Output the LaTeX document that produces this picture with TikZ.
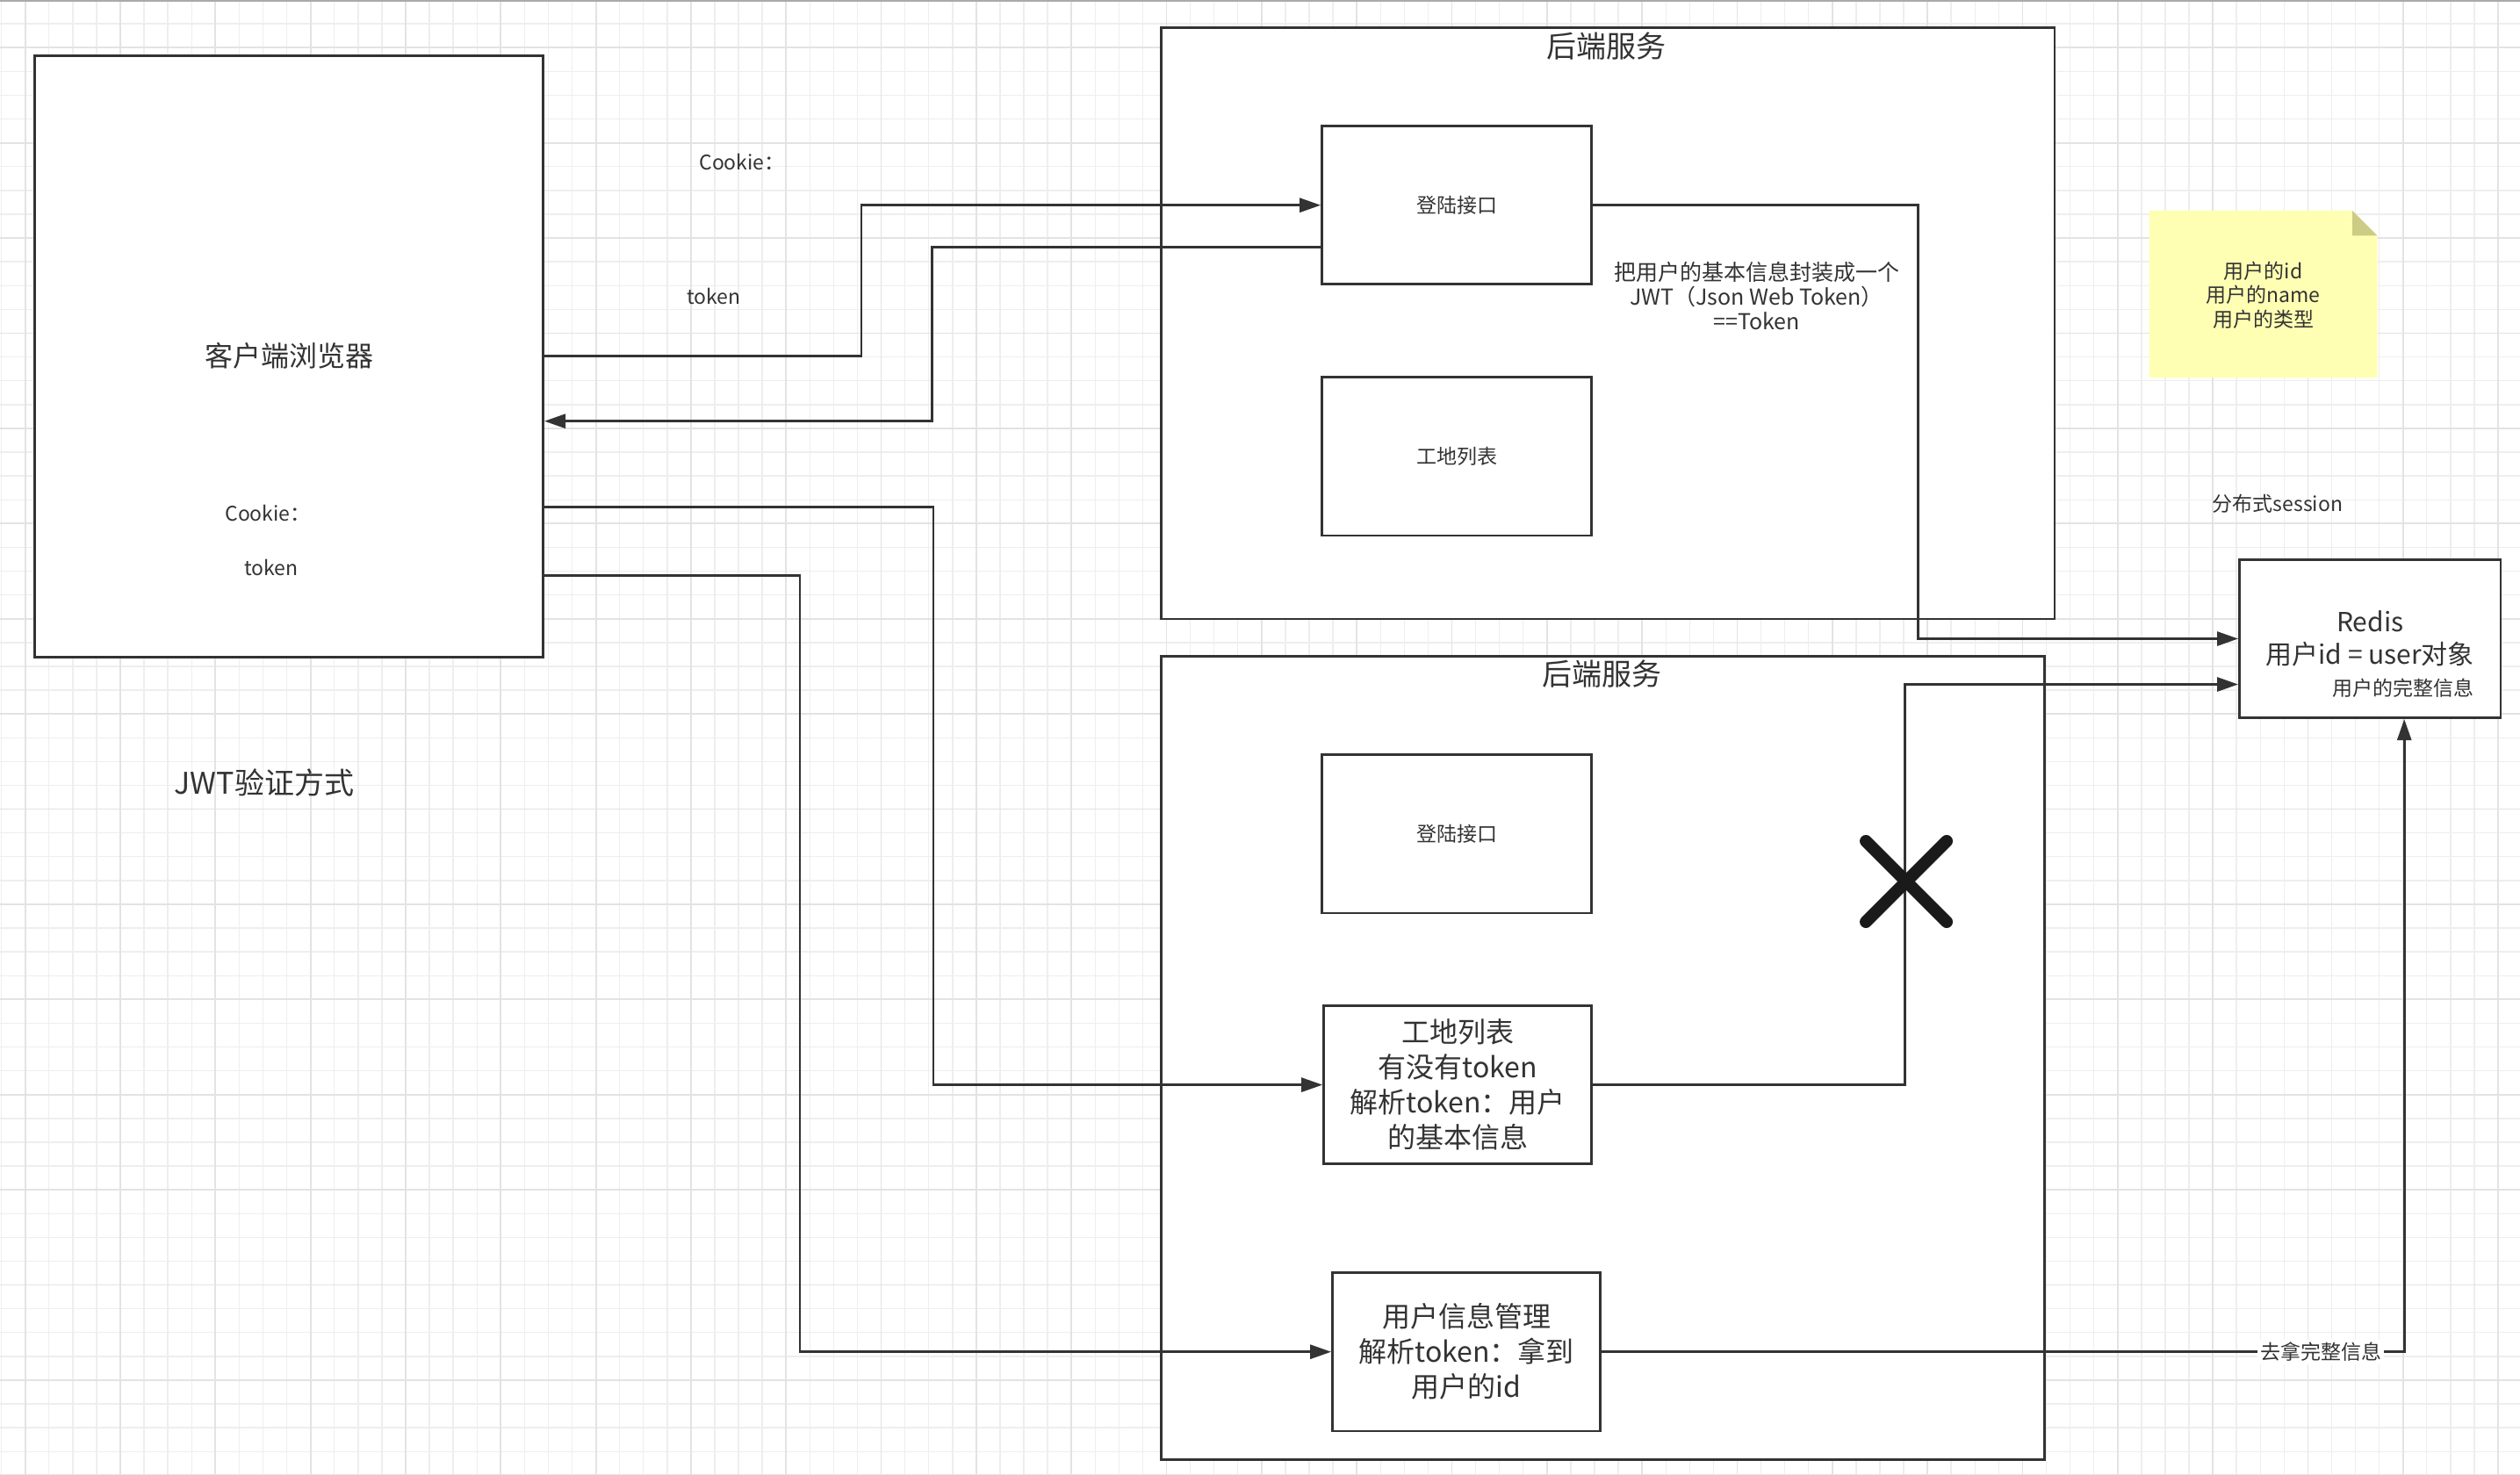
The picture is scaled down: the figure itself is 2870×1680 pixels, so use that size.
\documentclass[tikz,border=0pt]{standalone}
\usepackage{fontspec}
\setmainfont{Noto Sans CJK SC}
\usetikzlibrary{arrows.meta,calc}

\definecolor{ink}{HTML}{333333}
\definecolor{gridminor}{HTML}{EEEEEE}
\definecolor{gridmajor}{HTML}{E3E3E3}
\definecolor{notefill}{HTML}{FFFFB4}
\definecolor{notefold}{HTML}{CCCC86}
\definecolor{topline}{HTML}{AAAAAA}

\tikzset{
  every picture/.style={line width=0.7pt},
  box/.style={draw=ink, fill=white, inner sep=0pt, align=center, text=ink},
  txt/.style={inner sep=0.75pt, text=ink, align=center},
  smalltext/.style={font=\fontsize{5.75}{6.9}\selectfont},
  midtext/.style={font=\fontsize{6.25}{7}\selectfont},
  bigtext/.style={font=\fontsize{8}{10}\selectfont},
  conn/.style={draw=ink, -{Triangle[length=6pt,width=4pt]}},
}

\begin{document}
\begin{tikzpicture}[x=0.25pt,y=0.25pt,yscale=-1,xscale=1]
		\useasboundingbox (0,0) rectangle (2870,1680);
		\fill[white] (0,0) rectangle (2870,1680);
		
		%grid
		\foreach \i in {0,...,105} \draw[gridminor, line width=0.35pt] (1.6+27.08*\i,0) -- (1.6+27.08*\i,1680);
		\foreach \j in {0,...,62} \draw[gridminor, line width=0.35pt] (0,0.1+27.1*\j) -- (2870,0.1+27.1*\j);
		\foreach \i in {0,...,26} \draw[gridmajor, line width=0.45pt] (28.7+108.32*\i,0) -- (28.7+108.32*\i,1680);
		\foreach \j in {0,...,15} \draw[gridmajor, line width=0.45pt] (0,54.3+108.4*\j) -- (2870,54.3+108.4*\j);
		\draw[topline, line width=0.5pt] (0,1) -- (2870,1);
		
		%client
		\node[box, bigtext, minimum width=144.8pt, minimum height=171.2pt] (client) at (329,405.7) {客户端浏览器};
		\draw (305,584) node[txt, smalltext] (cookieIn) {Cookie：};
		\draw (309,646) node[txt, smalltext] (tokenIn) {token};
		\draw (845,184) node[txt, smalltext] (cookieOut) {Cookie：};
		\draw (813,337) node[txt, smalltext] (tokenOut) {token};
		\draw (301,891.7) node[txt, font=\fontsize{8.5}{10}\selectfont] (title) {JWT验证方式};
		
		%backend 1
		\node[box, minimum width=254.4pt, minimum height=168.35pt] (back1) at (1831.2,368.3) {};
		\draw (1829.6,52.6) node[txt, font=\fontsize{8.5}{10}\selectfont] (backTitle1) {后端服务};
		\node[box, smalltext, minimum width=76.8pt, minimum height=45.1pt] (login1) at (1659.2,233.7) {登陆接口};
		\node[box, smalltext, minimum width=76.8pt, minimum height=45.1pt] (site1) at (1659.2,519.7) {工地列表};
		\draw (2000.5,337) node[txt, midtext] (jwt) {把用户的基本信息封装成一个\\JWT（Json Web Token）\\==Token};
		
		%backend 2
		\node[box, minimum width=251.6pt, minimum height=228.7pt] (back2) at (1825.6,1205) {};
		\draw (1824.7,767.5) node[txt, font=\fontsize{8.5}{10}\selectfont] (backTitle2) {后端服务};
		\node[box, smalltext, minimum width=76.8pt, minimum height=45.1pt] (login2) at (1659.2,949.8) {登陆接口};
		\node[box, bigtext, minimum width=76.3pt, minimum height=45pt] (site2) at (1660.2,1235.6) {工地列表\\有没有token\\解析token：用户\\的基本信息};
		\node[box, bigtext, minimum width=76.25pt, minimum height=45.15pt] (user) at (1670,1539.7) {用户信息管理\\解析token：拿到\\用户的id};
		
		%redis
		\node[box, font=\fontsize{7.5}{9.25}\selectfont, minimum width=74.4pt, minimum height=45.1pt] (redis) at (2699.2,727.5) {Redis\\用户id = user对象};
		\draw (2737,784) node[txt, smalltext] (redisNote) {用户的完整信息};
		\draw (2594,574) node[txt, smalltext] (session) {分布式session};
		
		%note
		\fill[notefill] (2447.5,240) -- (2679,240) -- (2707.7,268.5) -- (2707.7,430) -- (2447.5,430) -- cycle;
		\fill[notefold] (2679,240) -- (2707.7,268.5) -- (2679,268.5) -- cycle;
		\draw (2577.6,336) node[txt, smalltext] (note) {用户的id\\用户的name\\用户的类型};
		
		%connectors
		\draw[conn] (client.east) -- ++(361,0) |- (login1.west);
		\draw[conn] ($(login1.west)+(0,48)$) -- ++(-443,0) |- ($(client.east)+(0,74)$);
		\draw[conn] ($(client.east)+(0,172)$) -- ++(443,0) |- (site2.west);
		\draw[conn] ($(client.east)+(0,250)$) -- ++(291,0) |- (user.west);
		\draw[conn] (login1.east) -- ++(370,0) |- (redis.west);
		\draw[conn] (site2.east) -- ++(355,0) |- ($(redis.west)+(0,52)$);
		\draw[conn] (user.east) -| ($(redis.south)+(39,0)$) node[pos=0.448, txt, smalltext, fill=white] (fetch) {去拿完整信息};
		
		%cross
		\draw[color={rgb, 255:red, 26; green, 26; blue, 26}, line width=3.5pt, line cap=round] (2125,958) -- (2217,1050) (2217,958) -- (2125,1050);
		
	\end{tikzpicture}
\end{document}
